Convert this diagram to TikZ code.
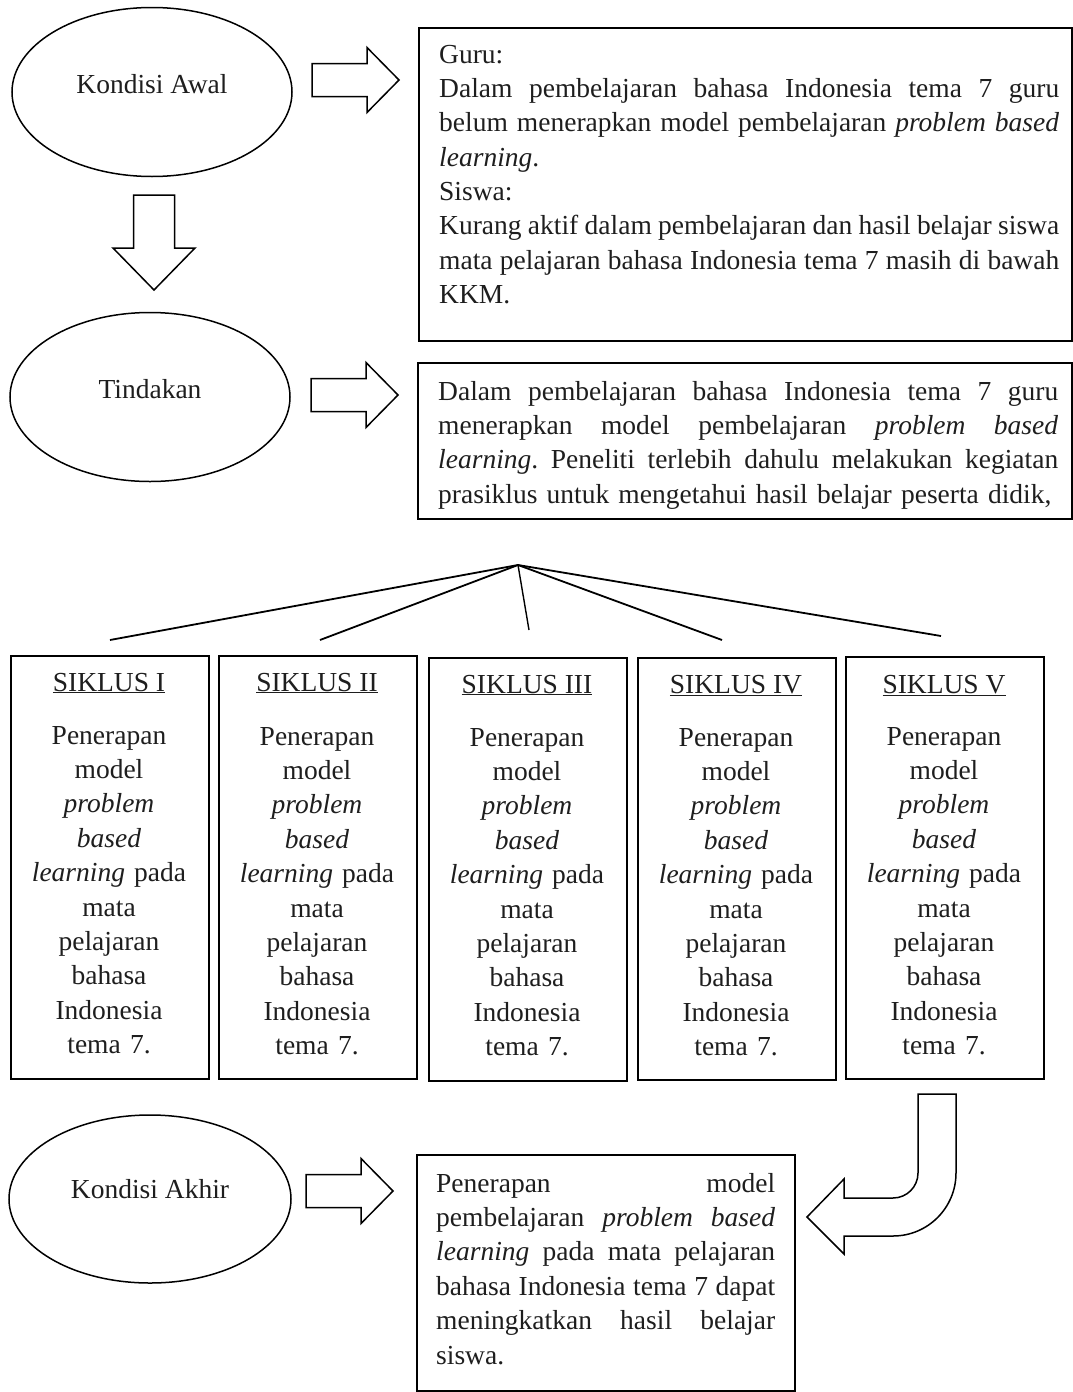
\documentclass[tikz,border=0pt]{standalone}
\usepackage{fontspec}
\setmainfont{Liberation Serif}
\usetikzlibrary{shapes.geometric}
\newcommand\bodyfs{\fontsize{27.5}{34.4}\selectfont\frenchspacing}
\newcommand\siklusbody{Penerapan\\model\\\textit{problem}\\\textit{based}\\\textit{learning} pada\\mata\\pelajaran\\bahasa\\Indonesia\\tema 7.}
\newcommand\jl[2]{\leavevmode\hbox to #1{\spaceskip=0.25em plus 1fil minus 0.12em\relax\xspaceskip=\spaceskip #2}}
\definecolor{ink}{HTML}{1E1E1E}
\tikzset{
  oval/.style={ellipse, draw, line width=1.5pt, minimum width=280pt, minimum height=169pt, inner sep=0pt},
  frame/.style={draw, line width=1.8pt, anchor=north west, inner sep=0pt},
  para/.style={anchor=base west, inner sep=0pt, align=left, text width=#1, text=ink},
  ctext/.style={anchor=base, inner sep=0pt, text=ink},
  cbody/.style={anchor=base, inner sep=0pt, align=center, text width=190pt, text=ink},
  blk/.style={draw, line width=1.5pt, fill=white, line join=miter},
  fan/.style={line width=1.8pt},
  rarrow/.pic={\draw[blk] (0,-16.5) -- (55,-16.5) -- (55,-32.5) -- (87,0) -- (55,32.5) -- (55,16.5) -- (0,16.5) -- cycle;}
}
\begin{document}
\begin{tikzpicture}[x=1pt, y=-1pt, font=\bodyfs]
\useasboundingbox (0,0) rectangle (1073,1392);

% ellipses
\node[oval] (awal) at (152,92) {};
\node[ctext] (awalT) at (152,93) {Kondisi Awal};
\node[oval] (tind) at (150,397) {};
\node[ctext] (tindT) at (150,398) {Tindakan};
\node[oval, minimum width=282pt, minimum height=168pt] (akhir) at (150,1199) {};
\node[ctext] (akhirT) at (150,1198) {Kondisi Akhir};

% block arrows
\pic at (312,80) {rarrow};
\pic at (311,395) {rarrow};
\pic at (306,1191) {rarrow};
\draw[blk] (133.5,195) -- (174.5,195) -- (174.5,248) -- (195,248) -- (154,290) -- (113,248) -- (133.5,248) -- cycle;

% box 1
\node[frame, minimum width=653pt, minimum height=313pt] (box1) at (418,27) {};
\node[para=620pt] (box1T) at (439,63) {Guru:\\
\jl{620pt}{Dalam pembelajaran bahasa Indonesia tema 7 guru}\\
\jl{620pt}{belum menerapkan model pembelajaran \textit{problem based}}\\
\textit{learning}.\\
Siswa:\\
\jl{620pt}{Kurang aktif dalam pembelajaran dan hasil belajar siswa}\\
\jl{620pt}{mata pelajaran bahasa Indonesia tema 7 masih di bawah}\\
KKM.};

% box 2
\node[frame, minimum width=654pt, minimum height=156pt] (box2) at (417,362) {};
\node[para=620pt] (box2T) at (438,400) {\jl{620pt}{Dalam pembelajaran bahasa Indonesia tema 7 guru}\\
\jl{620pt}{menerapkan model pembelajaran \textit{problem based}}\\
\jl{620pt}{\textit{learning}. Peneliti terlebih dahulu melakukan kegiatan}\\
prasiklus untuk mengetahui hasil belajar peserta didik,};

% fan
\coordinate (apex) at (518,565);
\coordinate (f1) at (110,640);
\coordinate (f2) at (320,640);
\coordinate (f3) at (529,630);
\coordinate (f4) at (722,640);
\coordinate (f5) at (941,636);
\draw[fan] (apex) -- (f1);
\draw[fan] (apex) -- (f2);
\draw[fan, line width=1.4pt] (apex) -- (f3);
\draw[fan] (apex) -- (f4);
\draw[fan] (apex) -- (f5);

% siklus boxes
\node[frame, minimum width=198pt, minimum height=423pt] (s1) at (10,655) {};
\node[frame, minimum width=198pt, minimum height=423pt] (s2) at (218,655) {};
\node[frame, minimum width=198pt, minimum height=423pt] (s3) at (428,657) {};
\node[frame, minimum width=198pt, minimum height=422pt] (s4) at (637,657) {};
\node[frame, minimum width=198pt, minimum height=422pt] (s5) at (845,656) {};
\node[ctext] (s1h) at (109,691) {\underline{SIKLUS I}};
\node[ctext] (s2h) at (317,691) {\underline{SIKLUS II}};
\node[ctext] (s3h) at (527,693) {\underline{SIKLUS III}};
\node[ctext] (s4h) at (736,693) {\underline{SIKLUS IV}};
\node[ctext] (s5h) at (944,693) {\underline{SIKLUS V}};
\node[cbody] (s1b) at (109,744) {\siklusbody};
\node[cbody] (s2b) at (317,745) {\siklusbody};
\node[cbody] (s3b) at (527,746) {\siklusbody};
\node[cbody] (s4b) at (736,746) {\siklusbody};
\node[cbody] (s5b) at (944,745) {\siklusbody};

% curved arrow
\draw[blk] (918,1094) -- (956,1094) -- (956,1173)
  .. controls (956,1207.8) and (927.8,1236) .. (893,1236)
  -- (844,1236) -- (844,1254) -- (807,1217) -- (844,1179) -- (844,1198)
  -- (893,1198) .. controls (906.8,1198) and (918,1186.8) .. (918,1173) -- cycle;

% box 3
\node[frame, minimum width=378pt, minimum height=236pt] (box3) at (416,1154) {};
\node[para=339pt] (box3T) at (436,1192) {\jl{339pt}{Penerapan model}\\
\jl{339pt}{pembelajaran \textit{problem based}}\\
\jl{339pt}{\textit{learning} pada mata pelajaran}\\
\jl{339pt}{bahasa Indonesia tema 7 dapat}\\
\jl{339pt}{meningkatkan hasil belajar}\\
siswa.};
\end{tikzpicture}
\end{document}
